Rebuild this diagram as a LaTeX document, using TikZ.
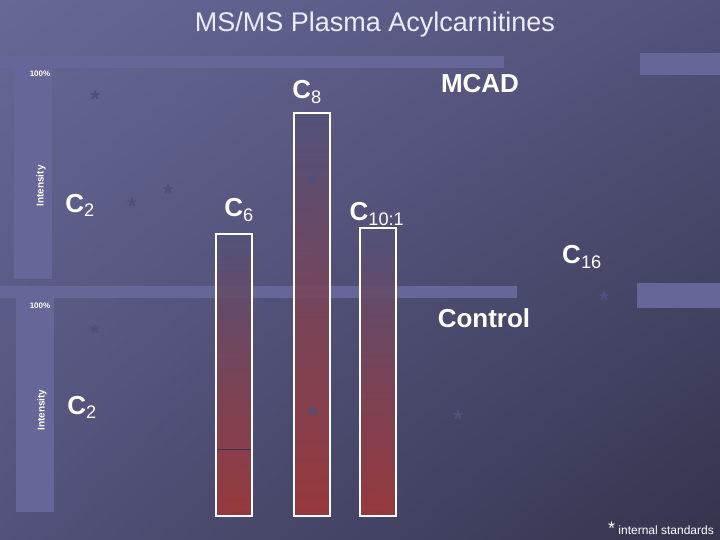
\documentclass[tikz,border=0pt]{standalone}
\usepackage{fontspec}
\usetikzlibrary{shadings}
\setmainfont{Liberation Sans}
\begin{document}
\begin{tikzpicture}[x=1pt,y=-1pt,
  strip/.style={fill=stripc,draw=none},
  lab/.style={text=white,font=\bfseries\fontsize{26}{28}\selectfont,inner sep=0},
  ast/.style={text=astc,font=\bfseries\fontsize{24}{24}\selectfont,inner sep=0},
  small/.style={text=white,font=\bfseries\fontsize{8}{9}\selectfont,inner sep=0}]
\definecolor{stripc}{RGB}{102,102,152}
\definecolor{astc}{RGB}{80,80,122}
\definecolor{barred}{RGB}{160,56,56}
\definecolor{bgmid}{RGB}{82,82,122}
\definecolor{bgtl}{RGB}{104,104,152}
\definecolor{bgbr}{RGB}{52,52,78}
\useasboundingbox (0,0) rectangle (720,540);
\shade[upper left=bgtl,lower right=bgbr,upper right=bgmid,lower left=bgmid] (0,0) rectangle (720,540);
% strips
\fill[strip] (0,56) rectangle (504,68);
\fill[strip] (640,53) rectangle (720,75);
\fill[strip] (0,286) rectangle (517,298);
\fill[strip] (637,283) rectangle (720,308);
\fill[strip] (14,57) rectangle (52,279);
\fill[strip] (16,298) rectangle (54,512);
\node[text=white!92!blue,font=\fontsize{27}{30}\selectfont] (title) at (375,25) {MS/MS Plasma Acylcarnitines};
\node[small] (p1) at (40,74) {100\%};
\node[small] (p2) at (40,306) {100\%};
\node[small,font=\bfseries\fontsize{10}{11}\selectfont,rotate=90] (i1) at (41,186) {Intensity};
\node[small,font=\bfseries\fontsize{10}{11}\selectfont,rotate=90] (i2) at (42,410) {Intensity};
% bars
\foreach \a/\b/\c in {216/252/234,294/330/113,360/396/228}{
  \shade[top color=bgmid,bottom color=barred,middle color=barred!55!bgmid,opacity=0.9] (\a,\c) rectangle (\b,516);
  \draw[white,line width=1.4pt] (\a,\c) rectangle (\b,516);
}
\draw[bgbr,line width=0.6pt] (217,449) -- (251,449);
% labels
\node[lab] (c2a) at (80,205) {C\textsubscript{\mdseries 2}};
\node[lab] (c6) at (239,210) {C\textsubscript{\mdseries 6}};
\node[lab] (c8) at (307,92) {C\textsubscript{\mdseries 8}};
\node[lab] (c10) at (377,214) {C\textsubscript{\mdseries 10:1}};
\node[lab] (c16) at (582,257) {C\textsubscript{\mdseries 16}};
\node[lab] (mcad) at (480,84) {MCAD};
\node[lab] (ctrl) at (484,318) {Control};
\node[lab] (c2b) at (82,407) {C\textsubscript{\mdseries 2}};
\node[text=white,font=\fontsize{12}{14}\selectfont,anchor=east,inner sep=0] (leg) at (714,528) {\fontsize{18}{14}\selectfont*\fontsize{12}{14}\selectfont{} internal standards};
% asterisks
\foreach \x/\y in {95/99,132/206,168/193,313/183,95/333,166/433,313/415,604/300,458/419}
  \node[ast] at (\x,\y) {*};
\end{tikzpicture}
\end{document}
